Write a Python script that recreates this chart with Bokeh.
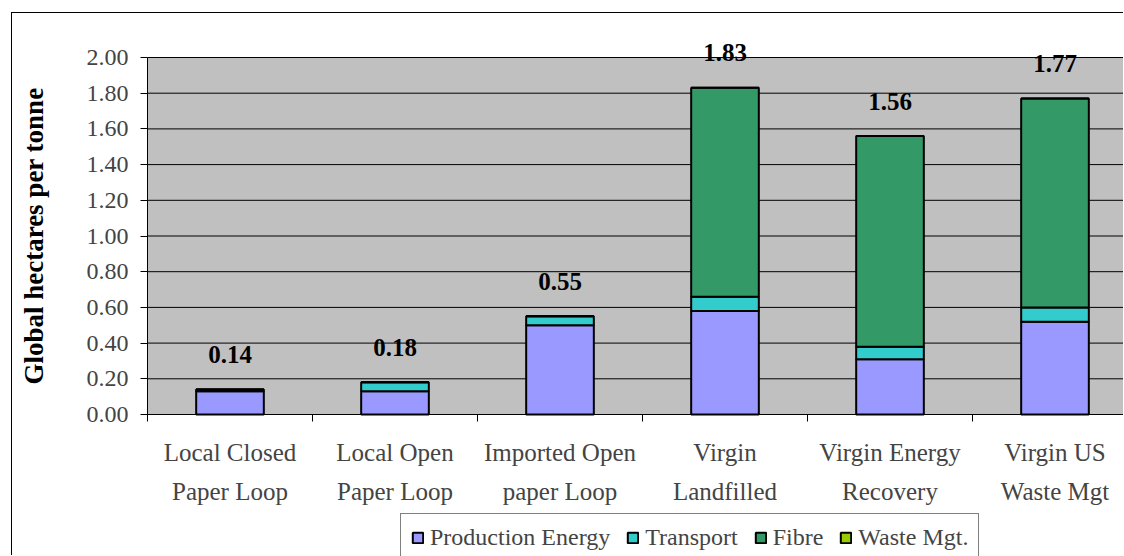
import math
from bokeh.plotting import figure
from bokeh.models import (Range1d, FixedTicker, NumeralTickFormatter, Legend,
                          LegendItem, ColumnDataSource)
from bokeh.core.properties import value
from bokeh.embed import file_html
from bokeh.resources import INLINE

# Ecological footprint of paper supply options (global hectares per tonne)
categories = ["Local Closed\nPaper Loop", "Local Open\nPaper Loop",
              "Imported Open\npaper Loop", "Virgin\nLandfilled",
              "Virgin Energy\nRecovery", "Virgin US\nWaste Mgt"]
production_energy = [0.13, 0.13, 0.50, 0.58, 0.31, 0.52]
transport = [0.01, 0.05, 0.05, 0.08, 0.07, 0.08]
fibre = [0.00, 0.00, 0.00, 1.17, 1.18, 1.17]
waste_mgt = [0.00, 0.00, 0.00, 0.00, 0.00, 0.00]
totals = [0.14, 0.18, 0.55, 1.83, 1.56, 1.77]
y_ticks = [0.0, 0.2, 0.4, 0.6, 0.8, 1.0, 1.2, 1.4, 1.6, 1.8, 2.0]
y_title = "Global hectares per tonne"

series_names = ["Production Energy", "Transport", "Fibre", "Waste Mgt."]
series_values = [production_energy, transport, fibre, waste_mgt]
colors = ["#9999FF", "#33CCCC", "#339966", "#99CC00"]

FONT = "Liberation Serif"
x = [i + 0.5 for i in range(len(categories))]
y_min, y_max = y_ticks[0], y_ticks[-1]

# one frame over the whole canvas; the grey plot area (0 .. 2.00) sits inside
# it, so the axis titles, value labels and legend can live around it
W, H = 1112, 543
px_x = 165                      # pixels per category
px_y = 357 / (y_max - y_min)    # pixels per unit of value
left_px, top_px, bottom_px = 135, 44, 142
x_start = -left_px / px_x
x_end = (W - left_px) / px_x
p = figure(width=W, height=H,
           x_range=Range1d(x_start, x_end),
           y_range=Range1d(y_min - bottom_px / px_y, y_max + top_px / px_y),
           output_backend="svg", toolbar_location=None,
           min_border=0,
           background_fill_color="white", border_fill_color="white")
p.styles = {"margin-left": "11px", "margin-top": "12px",
            "border-left": "1px solid black", "border-top": "1px solid black"}
p.outline_line_color = None
p.xgrid.visible = False
p.ygrid.visible = False

# grey plot area with its horizontal gridlines
p.quad(left=[0], right=[x_end], bottom=[y_min], top=[y_max],
       fill_color="#C0C0C0", line_color="#808080", line_width=1, level="image")
p.segment(x0=[0] * len(y_ticks), x1=[x_end] * len(y_ticks), y0=y_ticks, y1=y_ticks,
          line_color="black", line_width=1, level="underlay")

# stacked bars
bottoms = [0.0] * len(categories)
renderers = []
for name, vals, col in zip(series_names, series_values, colors):
    tops = [b + v for b, v in zip(bottoms, vals)]
    src = ColumnDataSource(dict(x=x, bottom=bottoms, top=tops))
    r = p.vbar(x="x", bottom="bottom", top="top", width=0.41, source=src,
               fill_color=col, line_color="black", line_width=2)
    renderers.append(r)
    bottoms = tops

# total labels above each bar
p.text(x=x, y=totals, text=[f"{t:.2f}" for t in totals],
       text_font=value(FONT), text_font_style="bold", text_font_size="25px",
       text_align="center", text_baseline="middle", y_offset=-35,
       text_color="black")

# value axis title, centred on the 0 .. 2.00 span
p.text(x=[x_start + 21 / px_x], y=[(y_min + y_max) / 2], text=[y_title],
       angle=math.pi / 2, text_font=value(FONT), text_font_style="bold",
       text_font_size="27px", text_align="center", text_baseline="middle",
       text_color="black")

# y axis at x = 0
p.yaxis.fixed_location = 0
p.yaxis.ticker = FixedTicker(ticks=y_ticks)
p.yaxis.bounds = (y_min, y_max)
p.yaxis.formatter = NumeralTickFormatter(format="0.00")
p.yaxis.major_label_text_font = FONT
p.yaxis.major_label_text_font_size = "24px"
p.yaxis.major_label_standoff = 12
p.yaxis.major_tick_out = 7
p.yaxis.major_tick_in = 0
p.yaxis.minor_tick_line_color = None
p.yaxis.axis_line_color = "black"

# x axis at zero: category names centred between boundary ticks
p.xaxis.fixed_location = y_min
p.xaxis.bounds = (0, x_end)
p.xaxis.ticker = FixedTicker(ticks=x, minor_ticks=list(range(len(categories) + 1)))
p.xaxis.major_label_overrides = {xi: c for xi, c in zip(x, categories)}
p.xaxis.major_label_text_font = FONT
p.xaxis.major_label_text_font_size = "25px"
p.xaxis.major_label_text_line_height = 1.45
p.xaxis.major_label_standoff = 17
p.xaxis.major_tick_in = 0
p.xaxis.major_tick_out = 0
p.xaxis.minor_tick_in = 0
p.xaxis.minor_tick_out = 7
p.xaxis.minor_tick_line_color = "black"
p.xaxis.axis_line_color = "black"

legend = Legend(
    items=[LegendItem(label=n, renderers=[r]) for n, r in zip(series_names, renderers)],
    orientation="horizontal", location=(388, -6),
    label_text_font=FONT, label_text_font_size="24px",
    glyph_width=13, glyph_height=13, label_standoff=6, spacing=16,
    padding=10, margin=0, border_line_color="black", border_line_width=1,
    background_fill_color="white", background_fill_alpha=1.0,
)
p.add_layout(legend, "center")

open("out.html", "w").write(file_html(p, INLINE))
